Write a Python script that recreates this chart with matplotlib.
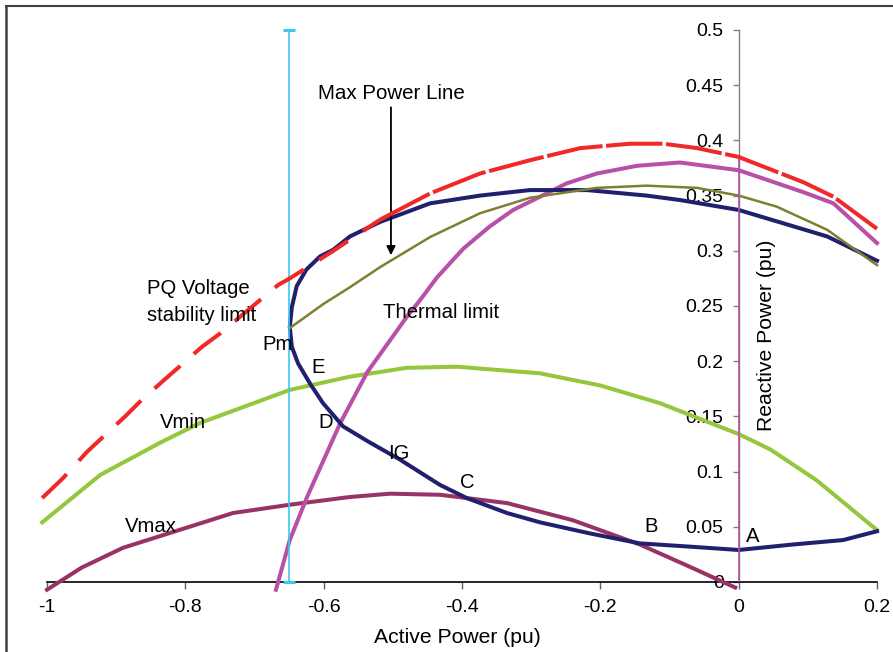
import numpy as np
import matplotlib
matplotlib.use('Agg')
import matplotlib.pyplot as plt
from matplotlib.lines import Line2D

# ==========================================
# Data
# ==========================================
# PQ voltage stability limit (red, dashed)
pq_x = [-1.007, -0.977, -0.942, -0.887, -0.863, -0.827, -0.776, -0.75, -0.666, -0.649,
        -0.586, -0.519, -0.446, -0.374, -0.302, -0.229, -0.157, -0.109, -0.06, 0.0,
        0.094, 0.137, 0.2]
pq_y = [0.076, 0.094, 0.118, 0.150, 0.165, 0.185, 0.213, 0.225, 0.269, 0.275,
        0.300, 0.328, 0.352, 0.370, 0.382, 0.393, 0.397, 0.397, 0.393, 0.385,
        0.362, 0.349, 0.32]

# Operating curve A-B-C-IG-D-E-Pm (navy)
op_x = [0.2, 0.151, 0.079, 0.0, -0.07, -0.143, -0.215, -0.287, -0.335, -0.393,
        -0.432, -0.49, -0.535, -0.572, -0.601, -0.620, -0.637, -0.646, -0.649, -0.646,
        -0.639, -0.625, -0.605, -0.586, -0.562, -0.519, -0.446, -0.374, -0.302, -0.219,
        -0.133, -0.085, 0.0, 0.128, 0.2]
op_y = [0.046, 0.038, 0.034, 0.029, 0.032, 0.035, 0.044, 0.054, 0.0625, 0.076,
        0.088, 0.111, 0.127, 0.141, 0.162, 0.180, 0.198, 0.213, 0.231, 0.249,
        0.268, 0.283, 0.295, 0.301, 0.313, 0.326, 0.343, 0.350, 0.355, 0.355,
        0.350, 0.346, 0.337, 0.313, 0.291]

# Max power line (olive)
mp_x = [-0.649, -0.60, -0.562, -0.519, -0.446, -0.374, -0.302, -0.205, -0.133, -0.06,
        0.0, 0.055, 0.128, 0.2]
mp_y = [0.230, 0.252, 0.267, 0.285, 0.3125, 0.334, 0.348, 0.357, 0.359, 0.357,
        0.350, 0.340, 0.319, 0.287]

# Thermal limit (magenta)
th_x = [-0.669, -0.649, -0.624, -0.576, -0.537, -0.48, -0.461, -0.436, -0.398, -0.36,
        -0.326, -0.287, -0.249, -0.205, -0.147, -0.085, 0.0, 0.094, 0.137, 0.2]
th_y = [-0.007, 0.038, 0.077, 0.144, 0.19, 0.240, 0.255, 0.276, 0.302, 0.322,
        0.337, 0.349, 0.361, 0.370, 0.377, 0.380, 0.373, 0.353, 0.343, 0.307]

# Vmin (green)
vmin_x = [-1.007, -0.923, -0.837, -0.779, -0.649, -0.562, -0.48, -0.407, -0.287, -0.2,
          -0.114, 0.0, 0.046, 0.113, 0.2]
vmin_y = [0.054, 0.097, 0.126, 0.144, 0.174, 0.186, 0.194, 0.195, 0.189, 0.178,
          0.162, 0.134, 0.12, 0.092, 0.047]

# Vmax (plum)
vmax_x = [-1.0, -0.95, -0.89, -0.731, -0.649, -0.562, -0.504, -0.432, -0.393, -0.335,
          -0.24, -0.143, -0.07, -0.005]
vmax_y = [-0.007, 0.013, 0.031, 0.0625, 0.070, 0.077, 0.080, 0.079, 0.076, 0.0715,
          0.056, 0.034, 0.0136, -0.005]

# Vertical markers
pm_line_x = -0.65
pm_line_y = [0.0, 0.5]
a_line_x = 0.0
a_line_y = [0.0, 0.385]

x_ticks = [-1, -0.8, -0.6, -0.4, -0.2, 0, 0.2]
x_tick_labels = ['-1', '-0.8', '-0.6', '-0.4', '-0.2', '0', '0.2']
y_ticks = [0, 0.05, 0.1, 0.15, 0.2, 0.25, 0.3, 0.35, 0.4, 0.45, 0.5]
y_tick_labels = ['0', '0.05', '0.1', '0.15', '0.2', '0.25', '0.3', '0.35', '0.4', '0.45', '0.5']

# Point labels: (text, x, baseline y)
point_labels = [
    ('Pm', -0.689, 0.2101),
    ('E', -0.618, 0.1893),
    ('D', -0.608, 0.1395),
    ('IG', -0.507, 0.1114),
    ('C', -0.403, 0.0851),
    ('B', -0.137, 0.0453),
    ('A', 0.0106, 0.0362),
    ('Vmin', -0.8366, 0.1395),
    ('Vmax', -0.8872, 0.0453),
    ('Thermal limit', -0.5142, 0.239),
    ('PQ Voltage', -0.8554, 0.261),
    ('stability limit', -0.8554, 0.236),
]


def main():
    plt.rcParams['font.family'] = ['Liberation Sans', 'DejaVu Sans']

    fig = plt.figure(figsize=(8.93, 6.52), dpi=100)
    ax = fig.add_axes([47 / 893, 70 / 652, 830 / 893, 552 / 652])

    lw = 2.9

    # --- curves ---
    split = 11
    ax.plot(pq_x[:split + 1], pq_y[:split + 1], color='#F02828', lw=lw,
            dashes=(8.5, 4.5), clip_on=False, zorder=4)
    ax.plot(pq_x[split:], pq_y[split:], color='#F02828', lw=lw,
            dashes=(14, 0.9), clip_on=False, zorder=4)
    ax.plot(vmin_x, vmin_y, color='#95C63C', lw=lw, clip_on=False, zorder=3,
            solid_joinstyle='round')
    ax.plot(vmax_x, vmax_y, color='#993366', lw=lw, clip_on=False, zorder=3,
            solid_joinstyle='round')
    ax.plot(th_x, th_y, color='#B850A8', lw=lw, clip_on=False, zorder=3,
            solid_joinstyle='round')
    ax.plot(op_x, op_y, color='#20206E', lw=lw, clip_on=False, zorder=3,
            solid_joinstyle='round')
    ax.plot(mp_x, mp_y, color='#7F7F30', lw=1.8, clip_on=False, zorder=3,
            solid_joinstyle='round')

    # --- vertical markers ---
    ax.errorbar([pm_line_x], [np.mean(pm_line_y)], yerr=[(pm_line_y[1] - pm_line_y[0]) / 2],
                fmt='none', ecolor='#3CC8F0', elinewidth=1.2, capsize=4.5, capthick=2.2,
                clip_on=False, zorder=3)
    ax.plot([a_line_x, a_line_x], a_line_y, color='#B850A8', lw=1.2, zorder=3.5)

    # --- axes styling ---
    ax.set_xlim(-1, 0.2)
    ax.set_ylim(0, 0.5)
    for side in ['top', 'right']:
        ax.spines[side].set_visible(False)
    ax.spines['left'].set_position(('data', 0))
    ax.spines['left'].set_color('#808080')
    ax.spines['left'].set_linewidth(1.0)
    ax.spines['bottom'].set_color('black')
    ax.spines['bottom'].set_linewidth(1.2)

    ax.set_xticks(x_ticks)
    ax.set_xticklabels(x_tick_labels)
    ax.set_yticks(y_ticks)
    ax.set_yticklabels(y_tick_labels)
    ax.tick_params(axis='x', direction='out', length=5, width=1, color='#606060',
                   pad=7, labelsize=14)
    ax.tick_params(axis='y', direction='out', length=4.3, width=1, color='#808080',
                   pad=6.5, labelsize=14)

    # --- text ---
    for txt, x, y in point_labels:
        ax.text(x, y, txt, fontsize=14.6, ha='left', va='baseline', zorder=5)

    ax.text(-0.5027, 0.4375, 'Max Power Line', fontsize=14.8, ha='center', va='baseline')
    ax.annotate('', xy=(-0.5027, 0.296), xytext=(-0.5027, 0.430),
                arrowprops=dict(arrowstyle='-|>', color='black', lw=1.3,
                                mutation_scale=13, shrinkA=0, shrinkB=0))

    fig.text(457 / 893, 1 - 643 / 652, 'Active Power (pu)', fontsize=15.2,
             ha='center', va='baseline')
    fig.text(767 / 893, 1 - 335.5 / 652, 'Reactive Power (pu)', fontsize=15.2,
             ha='center', va='center', rotation=90)

    # figure frame (top and left edges visible in the reference)
    fig.add_artist(Line2D([5.5 / 893, 5.5 / 893], [0, 1 - 5.5 / 652],
                          transform=fig.transFigure, color='#404040', lw=1.8))
    fig.add_artist(Line2D([5.5 / 893, 1], [1 - 5.5 / 652, 1 - 5.5 / 652],
                          transform=fig.transFigure, color='#404040', lw=1.5))

    fig.savefig('out.png', dpi=100)
    plt.close(fig)


if __name__ == "__main__":
    main()
